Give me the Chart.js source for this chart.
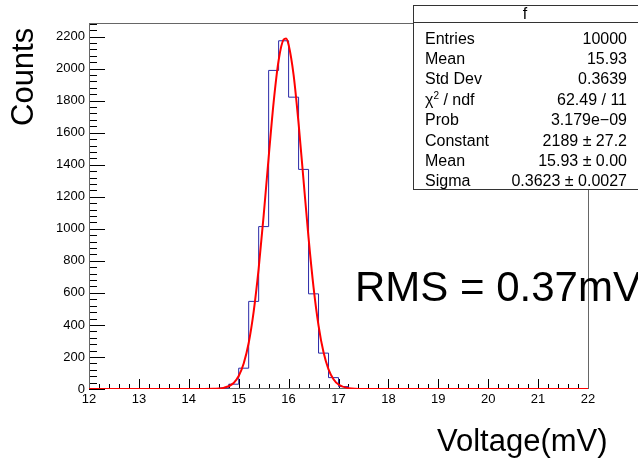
<!DOCTYPE html>
<html>
<head>
<meta charset="utf-8">
<script src="https://cdn.jsdelivr.net/npm/chart.js@4"></script>
<style>
  html, body { margin: 0; padding: 0; background: #fff; }
  canvas { display: block; }
</style>
</head>
<body>
<canvas id="histChart" width="638" height="458"></canvas>
<script>
const ctx = document.getElementById('histChart').getContext('2d');
const FONT = '"Liberation Sans", Arial, Helvetica, sans-serif';

// Histogram "f": 50 bins of 0.2 mV from 12 to 22 mV
const binStart = 12;
const binWidth = 0.2;
const binCounts = [
    0, 0, 0, 0, 0, 0, 0, 0, 0, 0,              // 12.0 - 13.8
    0, 0, 0, 6, 30, 130, 547, 1014, 1989, 2174, // 14.0 - 15.8
    1822, 1371, 594, 224, 71, 15, 2, 0, 0, 0,   // 16.0 - 17.8
    0, 0, 0, 0, 0, 0, 0, 0, 0, 0,              // 18.0 - 19.8
    0, 0, 0, 0, 0, 0, 0, 0, 0, 0,              // 20.0 - 21.8
];

// Gaussian fit curve
const fitX = [12, 14.3, 14.5, 14.7, 14.9, 15.0, 15.1, 15.2, 15.3, 15.4, 15.5, 15.6, 15.7, 15.8, 15.9, 15.95,
              16.0, 16.1, 16.2, 16.3, 16.4, 16.5, 16.6, 16.7, 16.8, 16.9, 17.0, 17.2, 17.5, 22];
const fitY = [0, 0, 1, 7, 38, 81, 159, 287, 483, 751, 1082, 1445, 1790, 2052, 2182, 2189,
              2149, 1961, 1658, 1300, 944, 635, 396, 229, 123, 61, 28, 5, 0, 0];

// Stats box
const statsTitle = 'f';
const statsLabels = ['Entries', 'Mean', 'Std Dev', 'CHI2', 'Prob', 'Constant', 'Mean', 'Sigma'];
const statsValues = ['10000', '15.93', '0.3639', '62.49 / 11', '3.179e\u221209',
                     '2189 \u00b1 27.2', '15.93 \u00b1 0.00', '0.3623 \u00b1 0.0027'];

const xTitle = 'Voltage(mV)';
const yTitle = 'Counts';
const rmsText = 'RMS = 0.37mV';

// first point of each bin at its low edge, closing point at the upper edge
const histPoints = [{ x: binStart, y: 0 }];
binCounts.forEach((c, i) => histPoints.push({ x: binStart + (i + 1) * binWidth, y: c }));
const fitPoints = fitX.map((x, i) => ({ x, y: fitY[i] }));

// ROOT style frame and inner ticks
const rootFrame = {
    id: 'rootFrame',
    beforeDatasetsDraw(chart) {
        const { ctx, chartArea: a, scales: { x, y } } = chart;
        ctx.save();
        ctx.strokeStyle = '#000';
        ctx.lineWidth = 1;
        ctx.beginPath();
        for (let i = 0; i <= 50; i++) {
            const px = Math.round(x.getPixelForValue(12 + i * 0.2)) + 0.5;
            const len = i % 5 === 0 ? 10 : 5;
            ctx.moveTo(px, a.bottom);
            ctx.lineTo(px, a.bottom - len);
        }
        for (let i = 0; i * 40 <= y.max; i++) {
            const py = Math.round(y.getPixelForValue(i * 40)) + 0.5;
            const len = i % 5 === 0 ? 16 : 8;
            ctx.moveTo(a.left, py);
            ctx.lineTo(a.left + len, py);
        }
        ctx.stroke();
        ctx.strokeStyle = '#666';
        ctx.strokeRect(a.left + 0.5, a.top + 0.5, a.right - a.left, a.bottom - a.top - 1);
        ctx.restore();
    },
    afterDraw(chart) {
        const { ctx } = chart;
        ctx.save();
        ctx.fillStyle = '#000';

        // axis titles
        ctx.font = '31px ' + FONT;
        ctx.textAlign = 'left';
        ctx.textBaseline = 'alphabetic';
        ctx.fillText(xTitle, 437, 451);
        ctx.save();
        ctx.translate(33, 126);
        ctx.rotate(-Math.PI / 2);
        ctx.fillText(yTitle, 0, 0);
        ctx.restore();

        // RMS label
        ctx.font = '42px ' + FONT;
        ctx.fillText(rmsText, 355, 301);

        // stats box
        ctx.fillStyle = '#fff';
        ctx.fillRect(413, 5, 230, 185);
        ctx.strokeStyle = '#333';
        ctx.lineWidth = 1;
        ctx.strokeRect(413.5, 5.5, 240, 184);
        ctx.beginPath();
        ctx.moveTo(413, 22.5);
        ctx.lineTo(640, 22.5);
        ctx.stroke();

        ctx.fillStyle = '#000';
        ctx.font = '16px ' + FONT;
        ctx.textAlign = 'center';
        ctx.fillText(statsTitle, 525, 19);
        statsLabels.forEach((lab, i) => {
            const by = 43.5 + i * 20.4;
            ctx.textAlign = 'left';
            ctx.font = '16px ' + FONT;
            if (lab === 'CHI2') {
                ctx.fillText('\u03c7', 425, by);
                let w = ctx.measureText('\u03c7').width;
                ctx.font = '10px ' + FONT;
                ctx.fillText('2', 425 + w, by - 6);
                w += ctx.measureText('2').width;
                ctx.font = '16px ' + FONT;
                ctx.fillText(' / ndf', 425 + w, by);
            } else {
                ctx.fillText(lab, 425, by);
            }
            ctx.textAlign = 'right';
            ctx.fillText(statsValues[i], 627, by);
        });
        ctx.restore();
    }
};

const config = {
    type: 'line',
    data: {
        datasets: [
            {
                label: 'fit',
                data: fitPoints,
                borderColor: '#ff0000',
                borderWidth: 2,
                pointRadius: 0,
                cubicInterpolationMode: 'monotone',
                fill: false,
                order: 0,
            },
            {
                label: 'f',
                data: histPoints,
                borderColor: '#2a2aa8',
                borderWidth: 1,
                pointRadius: 0,
                stepped: 'after',
                fill: false,
                order: 1,
            },
        ],
    },
    options: {
        responsive: false,
        animation: false,
        devicePixelRatio: 1,
        layout: { padding: { left: 0, top: 23, right: 50, bottom: 0 } },
        plugins: {
            legend: { display: false },
            tooltip: { enabled: false },
        },
        scales: {
            x: {
                type: 'linear',
                min: 12,
                max: 22,
                grid: { display: false, drawTicks: false },
                border: { display: false },
                ticks: {
                    stepSize: 1,
                    padding: 3,
                    maxRotation: 0,
                    autoSkip: false,
                    color: '#000',
                    font: { family: FONT, size: 13 },
                },
                afterFit: (s) => { s.height = 69; },
            },
            y: {
                type: 'linear',
                min: 0,
                max: 2285,
                grid: { display: false, drawTicks: false },
                border: { display: false },
                ticks: {
                    stepSize: 200,
                    includeBounds: false,
                    padding: 4,
                    color: '#000',
                    font: { family: FONT, size: 13 },
                    callback: (v) => String(v),
                },
                afterFit: (s) => { s.width = 89; },
            },
        },
    },
    plugins: [rootFrame],
};

new Chart(ctx, config);
</script>
</body>
</html>
